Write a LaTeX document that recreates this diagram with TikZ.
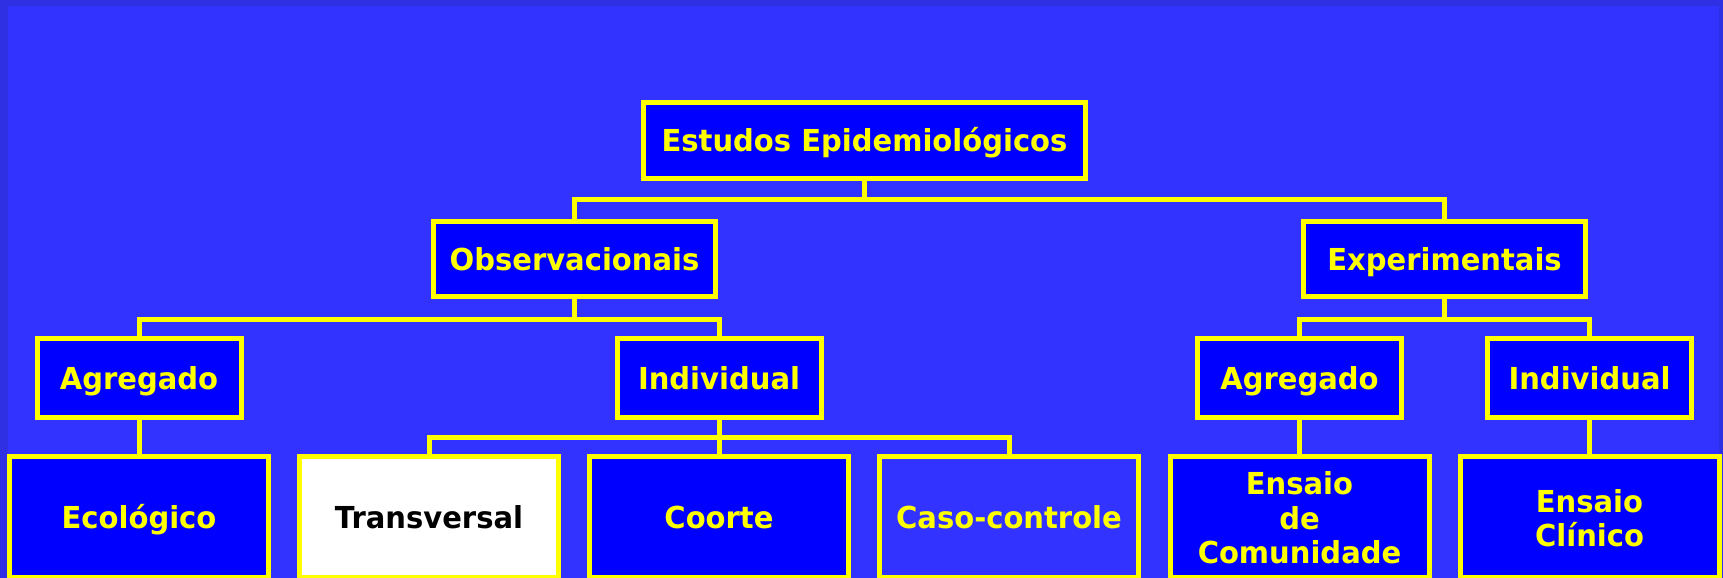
\documentclass[tikz,border=0pt]{standalone}
\usepackage{fontspec}
\setmainfont{DejaVu Sans}[FakeStretch=0.96]
\definecolor{bgblue}{RGB}{51,51,255}
\definecolor{bgedge}{RGB}{47,47,228}
\definecolor{boxblue}{RGB}{0,0,255}
\definecolor{lineyellow}{RGB}{255,255,0}
\tikzset{
  box/.style={draw=lineyellow,line width=0.1cm,fill=boxblue,text=lineyellow,
    font=\fontsize{17.2}{19.5}\selectfont\bfseries,align=center,inner sep=0pt,
    text height=12.54pt,text depth=0pt},
  top/.style={box,minimum width=8.84cm,minimum height=1.52cm},
  mid/.style={box,minimum width=5.64cm,minimum height=1.5cm},
  low/.style={box,minimum width=4.08cm,minimum height=1.58cm},
  leaf/.style={box,minimum width=5.18cm,minimum height=2.42cm},
  link/.style={draw=lineyellow,line width=0.1cm}
}
\begin{document}
\begin{tikzpicture}
  \useasboundingbox (0,0) rectangle (34.46,11.56);
  \fill[bgedge] (0,0) rectangle (34.46,11.56);
  \fill[bgblue] (0.16,0) rectangle (34.38,11.44);
  % Top of the tree
  \node[top]   (EE)   at (17.29,8.75) {Estudos Epidemiológicos};
  \node[mid]   (Obs)  at (11.49,6.38) {Observacionais};
  \node[mid]   (Exp)  at (28.89,6.38) {Experimentais};
  \coordinate  (EEbus)   at (17.29,7.56);
  \draw[link] (EE.south) -- (EEbus);
  \draw[link] (Obs.north) |- (EEbus) -| (Exp.north);
  % Observacionais side
  \node[low]   (AgO)  at (2.78,4.0)  {Agregado};
  \node[low]   (IndO) at (14.38,4.0) {Individual};
  \coordinate  (Obsbus)  at (11.49,5.16);
  \draw[link] (Obs.south) -- (Obsbus);
  \draw[link] (AgO.north) |- (Obsbus) -| (IndO.north);
  \node[leaf]  (Eco)  at (2.78,1.22)  {Ecológico};
  \node[leaf,fill=white,text=black] (Tra) at (8.58,1.22) {Transversal};
  \node[leaf]  (Coo)  at (14.38,1.22) {Coorte};
  \node[leaf,fill=bgblue] (Cas) at (20.18,1.22) {Caso-controle};
  \draw[link] (AgO.south) -- (Eco.north);
  \coordinate  (IndObus) at (14.38,2.8);
  \draw[link] (IndO.south) -- (Coo.north);
  \draw[link] (Tra.north) |- (IndObus) -| (Cas.north);
  % Experimentais side
  \node[low]   (AgE)  at (25.99,4.0) {Agregado};
  \node[low]   (IndE) at (31.79,4.0) {Individual};
  \coordinate  (Expbus)  at (28.89,5.16);
  \draw[link] (Exp.south) -- (Expbus);
  \draw[link] (AgE.north) |- (Expbus) -| (IndE.north);
  \node[leaf,text height=52.94pt] (Com) at (25.99,1.22) {Ensaio\\de\\Comunidade};
  \node[leaf,text height=33.44pt] (Cli) at (31.79,1.22) {Ensaio\\Clínico};
  \draw[link] (AgE.south) -- (Com.north);
  \draw[link] (IndE.south) -- (Cli.north);
\end{tikzpicture}
\end{document}
